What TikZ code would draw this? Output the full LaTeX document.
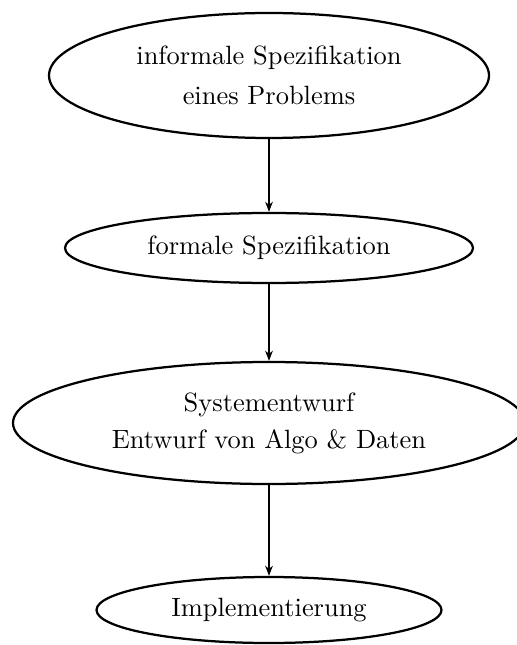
\documentclass[tikz,border=0pt]{standalone}
\usetikzlibrary{shapes.geometric,arrows.meta}
\begin{document}
\begin{tikzpicture}[x=0.4pt,y=-0.4pt,
  stage/.style={ellipse,draw,line width=0.9pt,inner sep=0pt,align=center,
    font=\fontsize{10.57pt}{12pt}\selectfont},
  flow/.style={line width=0.8pt,-{Stealth[length=4pt,width=3pt,inset=1.2pt]}}]
\useasboundingbox (0,0) rectangle (517,645);
\node[stage,minimum width=176pt,minimum height=50pt] (inf) at (269,75.5)
  {informale Spezifikation\\[4.2pt]eines Problems};
\node[stage,minimum width=163.2pt,minimum height=28pt] (form) at (269,248)
  {formale Spezifikation};
\node[stage,minimum width=204.8pt,minimum height=48.8pt] (sys) at (269,423)
  {Systementwurf\\[2.8pt]Entwurf von Algo \& Daten};
\node[stage,minimum width=138pt,minimum height=26.4pt] (impl) at (269,610)
  {Implementierung};
\draw[flow] (inf) -- (form);
\draw[flow] (form) -- (sys);
\draw[flow] (sys) -- (impl);
\end{tikzpicture}
\end{document}
